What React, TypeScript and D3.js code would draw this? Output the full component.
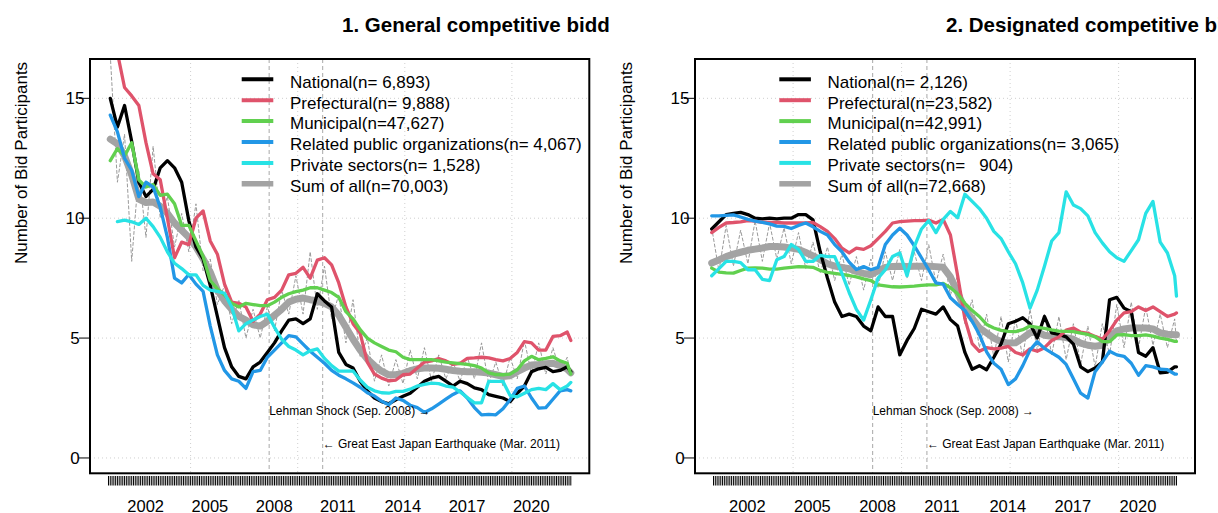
import React from "react";
import * as d3 from "d3";

const FONT = "'Liberation Sans', Arial, Helvetica, sans-serif";

// month index = months since Jan 2001
const MONTHS_LEFT = [...d3.range(3, 260, 4), 261];
const MONTHS_RIGHT = [...d3.range(3, 260, 4), 260];

const LEGEND_LEFT = [
  "National(n= 6,893)",
  "Prefectural(n= 9,888)",
  "Municipal(n=47,627)",
  "Related public organizations(n= 4,067)",
  "Private sectors(n= 1,528)",
  "Sum of all(n=70,003)",
];
const LEGEND_RIGHT = [
  "National(n= 2,126)",
  "Prefectural(n=23,582)",
  "Municipal(n=42,991)",
  "Related public organizations(n= 3,065)",
  "Private sectors(n=   904)",
  "Sum of all(n=72,668)",
];
const COLORS = ["#000000", "#DF536B", "#61D04F", "#2297E6", "#28E2E5", "#A3A3A3"];

const YEAR_LABELS = [2002, 2005, 2008, 2011, 2014, 2017, 2020];
const GRID_YEARS = [2005, 2010, 2015, 2020];
const Y_TICKS = [0, 5, 10, 15];
const EVENT_LEHMAN = 92; // Sep 2008
const EVENT_QUAKE = 122; // Mar 2011

// ---------- Panel 1: General competitive bidding ----------
const L_NATIONAL = [
  15.0, 13.8, 14.7, 13.2, 11.5, 10.9, 11.2, 12.1, 12.4, 12.1, 11.5, 9.9, 8.8, 8.3, 7.2, 5.9, 4.6, 3.8, 3.4, 3.3, 3.8, 4.0,
  4.4, 4.8, 5.3, 5.75, 5.8, 5.6, 5.8, 6.85, 6.55, 6.3, 4.4, 3.9, 3.75, 3.2, 2.8, 2.5, 2.35, 2.26, 2.43, 2.57, 2.7, 2.95,
  3.2, 3.33, 3.4, 3.2, 3.0, 3.2, 3.1, 2.92, 2.85, 2.64, 2.57, 2.5, 2.35, 2.7, 3.0, 3.6, 3.72, 3.78, 3.6, 3.65, 3.8, 3.6,
];
const L_PREFECTURAL = [
  18.0, 16.9, 15.45, 15.1, 14.7, 13.15, 11.85, 11.6, 10.0, 8.35, 9.0, 8.9, 10.0, 10.3, 9.05, 8.5, 7.25, 6.5, 6.45, 6.3, 5.7, 6.0,
  6.6, 6.7, 7.0, 7.64, 7.7, 7.95, 7.5, 8.25, 8.35, 8.05, 7.3, 6.3, 5.6, 5.2, 4.0, 3.5, 3.33, 3.22, 3.25, 3.47, 3.5, 3.75,
  4.0, 4.05, 4.15, 4.05, 3.9, 3.95, 4.15, 4.17, 4.2, 4.17, 4.1, 4.05, 4.15, 4.4, 4.85, 4.8, 4.5, 4.5, 5.07, 5.1, 5.25, 4.9,
];
const L_MUNICIPAL = [
  12.4, 12.9, 12.6, 13.15, 11.6, 11.3, 11.4, 10.95, 11.0, 10.6, 9.7, 9.7, 9.05, 8.4, 7.4, 7.05, 6.8, 6.45, 6.3, 6.45, 6.4, 6.35,
  6.35, 6.5, 6.7, 6.85, 6.94, 7.0, 7.1, 7.1, 7.0, 6.9, 6.7, 6.1, 5.8, 5.35, 5.0, 4.8, 4.65, 4.5, 4.43, 4.2, 4.1, 4.1,
  4.1, 4.1, 4.05, 4.0, 3.97, 3.93, 3.9, 3.85, 3.75, 3.55, 3.48, 3.47, 3.5, 3.68, 4.05, 4.24, 4.1, 4.15, 4.22, 4.05, 3.95, 3.5,
];
const L_RELATED = [
  14.3, 13.6, 12.5, 12.0, 10.9, 11.5, 11.3, 10.45, 9.2, 7.5, 7.3, 7.65, 7.25, 6.95, 5.5, 4.3, 3.65, 3.3, 3.2, 2.9, 3.6, 3.65,
  4.2, 4.5, 4.8, 5.1, 5.05, 4.75, 4.45, 4.2, 3.95, 3.65, 3.45, 3.3, 3.13, 2.95, 2.72, 2.58, 2.37, 2.22, 2.5, 2.4, 2.2, 2.1,
  1.9, 2.05, 2.25, 2.45, 2.65, 2.8, 2.5, 2.1, 1.8, 1.82, 1.8, 2.05, 2.43, 2.9, 3.0, 2.5, 2.08, 2.1, 2.45, 2.8, 2.85, 2.8,
];
const L_PRIVATE = [
  null, 9.86, 9.92, 9.85, 9.74, 10.0, 9.65, 9.2, 8.6, 8.12, 7.9, 7.64, 7.64, 7.2, 7.0, 6.95, 6.87, 6.3, 5.3, 5.6, 5.75, 5.9,
  6.0, 5.45, 4.95, 4.65, 4.5, 4.3, 4.47, 4.55, 4.15, 3.85, 3.62, 3.62, 3.63, 3.25, 2.95, 2.8, 2.72, 2.7, 2.78, 2.78, 2.87, 3.0,
  3.07, 3.12, 3.1, 3.0, 2.95, 2.75, 2.52, 2.3, 2.3, 3.19, 3.19, 3.19, 2.6, 2.55, 2.7, 2.85, 2.9, 2.85, 3.1, 2.85, 3.0, 3.15,
];
const L_SUM = [
  13.3, 13.1, 12.6, 11.8, 10.8, 10.65, 10.68, 10.5, 10.2, 9.8, 9.5, 9.2, 8.8, 8.3, 7.75, 7.0, 6.55, 6.2, 5.9, 5.75, 5.55, 5.5,
  5.7, 5.95, 6.2, 6.5, 6.62, 6.67, 6.6, 6.55, 6.45, 6.3, 5.95, 5.45, 4.95, 4.5, 4.12, 3.85, 3.62, 3.47, 3.47, 3.53, 3.64, 3.72,
  3.75, 3.75, 3.74, 3.7, 3.65, 3.62, 3.6, 3.6, 3.57, 3.54, 3.47, 3.4, 3.43, 3.6, 3.75, 3.88, 3.9, 3.93, 3.95, 3.85, 3.7, 3.55,
];
const L_SUM_MONTHLY = [
  16.8, 11.5, 13.5, 8.2, 12.0, 9.2, 13.0, 10.0, 10.9, 8.8, 10.2, 8.6, 10.6, 7.8, 8.3, 6.4, 7.2, 5.6, 6.6, 5.0, 6.2, 5.0,
  6.3, 5.3, 7.0, 6.0, 7.6, 6.0, 8.6, 6.2, 8.0, 5.8, 6.8, 4.8, 6.6, 4.2, 5.0, 3.2, 4.3, 3.0, 4.1, 3.1, 4.5, 3.3,
  4.6, 3.2, 4.3, 3.3, 4.0, 3.2, 4.2, 3.3, 4.8, 3.1, 4.0, 3.0, 4.2, 3.3, 4.9, 3.5, 4.8, 3.5, 4.6, 3.6, 4.2, 3.4,
];

// ---------- Panel 2: Designated competitive bidding ----------
const R_NATIONAL = [
  9.55, 9.85, 10.15, 10.2, 10.24, 10.15, 10.0, 9.97, 10.0, 9.97, 10.0, 10.0, 10.15, 10.15, 9.93, 8.6, 7.5, 6.5, 5.9, 6.0, 5.9, 5.5,
  5.3, 6.3, 5.9, 5.9, 4.3, 4.9, 5.4, 6.2, 6.1, 6.0, 6.3, 5.77, 5.5, 4.4, 3.7, 3.85, 3.68, 4.2, 4.75, 5.6, 5.7, 5.85,
  5.6, 5.0, 5.9, 5.22, 5.15, 5.05, 4.75, 3.8, 3.6, 3.75, 4.0, 6.6, 6.7, 6.25, 6.1, 4.4, 4.24, 4.6, 3.55, 3.58, 3.8, 3.8,
];
const R_PREFECTURAL = [
  9.4, 9.62, 9.8, 9.82, 9.85, 9.9, 9.88, 9.83, 9.82, 9.82, 9.8, 9.8, 9.8, 9.8, 9.82, 9.65, 9.45, 9.15, 8.75, 8.55, 8.75, 8.7,
  8.85, 9.15, 9.45, 9.8, 9.86, 9.88, 9.9, 9.9, 9.92, 9.8, 9.95, 9.3, 7.6, 5.8, 4.77, 4.45, 4.6, 4.55, 4.58, 4.65, 4.4, 4.3,
  4.55, 4.45, 4.6, 4.9, 5.05, 5.33, 5.42, 5.25, 5.2, 5.07, 4.95, 5.3, 5.75, 6.05, 6.1, 6.3, 6.15, 6.3, 6.1, 5.9, 6.0, 6.05,
];
const R_MUNICIPAL = [
  7.92, 7.75, 7.72, 7.71, 7.82, 7.92, 7.93, 7.92, 7.88, 7.88, 7.92, 7.95, 7.98, 7.97, 7.95, 7.82, 7.74, 7.7, 7.66, 7.61, 7.55, 7.47,
  7.4, 7.22, 7.18, 7.14, 7.13, 7.15, 7.17, 7.2, 7.22, 7.22, 7.28, 7.1, 6.85, 6.45, 6.15, 5.9, 5.57, 5.42, 5.32, 5.28, 5.27, 5.35,
  5.5, 5.45, 5.4, 5.34, 5.29, 5.28, 5.27, 5.21, 5.15, 5.05, 4.85, 4.85, 5.13, 5.14, 5.1, 5.1, 5.13, 5.08, 5.0, 4.95, 4.86, 4.86,
];
const R_RELATED = [
  10.1, 10.1, 10.12, 10.14, 10.05, 9.95, 9.88, 9.83, 9.76, 9.67, 9.66, 9.57, 9.7, 9.8, 9.64, 9.45, 9.3, 8.9, 8.6, 8.17, 7.86, 7.98,
  7.85, 7.95, 8.9, 9.3, 9.58, 9.3, 8.85, 8.35, 7.85, 7.3, 7.25, 6.68, 6.4, 6.15, 5.7, 5.15, 4.42, 3.95, 3.7, 3.06, 3.3, 3.85,
  4.5, 4.85, 4.57, 4.38, 4.2, 3.9, 3.3, 2.7, 2.5, 3.6, 4.0, 4.45, 4.3, 4.24, 3.95, 3.45, 3.85, 3.8, 3.7, 3.68, 3.5, 3.5,
];
const R_PRIVATE = [
  7.6, 7.9, 8.2, 8.2, 8.15, 7.85, 7.85, 7.45, 7.4, 8.27, 8.4, 8.9, 8.7, 8.2, 8.2, 8.45, 8.4, 8.4, 7.7, 6.9, 6.2, 5.75,
  6.6, 7.5, 7.85, 8.4, 8.55, 7.6, 8.8, 9.55, 9.9, 9.4, 9.95, 10.28, 10.02, 11.0, 10.7, 10.4, 10.0, 9.45, 9.15, 8.6, 8.1, 7.3,
  6.25, 7.0, 8.0, 9.05, 9.4, 11.1, 10.55, 10.4, 10.1, 9.4, 8.97, 8.6, 8.35, 8.2, 8.65, 9.1, 10.2, 10.7, 9.0, 8.55, 7.6, 6.75,
];
const R_SUM = [
  8.13, 8.26, 8.4, 8.5, 8.58, 8.66, 8.71, 8.76, 8.82, 8.82, 8.8, 8.75, 8.7, 8.57, 8.43, 8.27, 8.1, 8.0, 7.95, 7.89, 7.78, 7.7,
  7.64, 7.8, 7.95, 7.99, 8.0, 7.99, 8.0, 8.0, 8.0, 7.98, 7.95, 7.55, 6.9, 6.2, 5.82, 5.43, 5.21, 5.0, 4.85, 4.79, 4.8, 5.0,
  5.22, 5.25, 5.12, 5.07, 5.06, 5.02, 4.95, 4.79, 4.7, 4.66, 4.7, 5.05, 5.3, 5.38, 5.42, 5.42, 5.42, 5.38, 5.22, 5.16, 5.14, 5.14,
];
const R_SUM_MONTHLY = [
  9.6, 7.8, 9.7, 8.0, 9.5, 8.1, 9.9, 8.2, 9.8, 8.3, 9.6, 8.1, 9.4, 7.9, 9.0, 7.7, 8.8, 7.4, 8.5, 7.2, 8.4, 7.0,
  8.3, 7.1, 8.6, 7.4, 8.7, 7.5, 8.6, 7.4, 8.9, 7.3, 8.5, 6.8, 7.6, 5.6, 6.6, 4.6, 6.0, 4.2, 5.9, 4.0, 5.8, 4.2,
  6.2, 4.5, 6.0, 4.3, 5.9, 4.1, 5.6, 3.9, 5.5, 3.8, 5.6, 4.3, 6.4, 4.6, 6.5, 4.6, 6.3, 4.7, 6.0, 4.6, 5.8, 4.8,
];

const PANELS = [
  {
    key: "p1",
    offset: 0,
    clipW: 609,
    title: "1. General competitive bidding",
    titleX: 342,
    ylabX: 26.5,
    boxLeft: 90,
    boxRight: 589.3,
    first: 2,
    last: 261,
    months: MONTHS_LEFT,
    series: [L_NATIONAL, L_PREFECTURAL, L_MUNICIPAL, L_RELATED, L_PRIVATE],
    sum: L_SUM,
    raw: L_SUM_MONTHLY,
    legend: LEGEND_LEFT,
    legendX: 241.7,
  },
  {
    key: "p2",
    offset: 609,
    clipW: 609,
    title: "2. Designated competitive bidding",
    titleX: 946,
    ylabX: 631.5,
    boxLeft: 695,
    boxRight: 1195,
    first: 4,
    last: 260,
    months: MONTHS_RIGHT,
    series: [R_NATIONAL, R_PREFECTURAL, R_MUNICIPAL, R_RELATED, R_PRIVATE],
    sum: R_SUM,
    raw: R_SUM_MONTHLY,
    legend: LEGEND_RIGHT,
    legendX: 779.3,
  },
];

const BOX_TOP = 59;
const BOX_BOTTOM = 473.3;
const monthOf = (year: number) => (year - 2001) * 12;

function Panel({ p }: { p: any }) {
  const pad = (p.last - p.first) * 0.04;
  const x = d3.scaleLinear().domain([p.first - pad, p.last + pad]).range([p.boxLeft, p.boxRight]);
  const yPad = 16 * 0.04;
  const y = d3.scaleLinear().domain([-yPad, 16 + yPad]).range([BOX_BOTTOM, BOX_TOP]);

  const line = d3
    .line<[number, number | null]>()
    .defined((d) => d[1] != null)
    .x((d) => x(d[0]))
    .y((d) => y(d[1] as number));
  const toPts = (vals: (number | null)[]) => p.months.map((m: number, i: number) => [m, vals[i]] as [number, number | null]);

  const clipId = `plot-${p.key}`;
  const titleClip = `title-${p.key}`;
  const monthTicks = d3.range(p.first, p.last + 1);
  const legendRowY = (k: number) => 79.3 + k * 20.9;
  const yMid = (BOX_TOP + 267) / 2;

  return (
    <g>
      <defs>
        <clipPath id={clipId}>
          <rect x={p.boxLeft} y={BOX_TOP} width={p.boxRight - p.boxLeft} height={BOX_BOTTOM - BOX_TOP} />
        </clipPath>
        <clipPath id={titleClip}>
          <rect x={p.offset} y={0} width={p.clipW} height={60} />
        </clipPath>
      </defs>

      {/* title (cut at the panel edge, as in the source figure) */}
      <g clipPath={`url(#${titleClip})`}>
        <text x={p.titleX} y={32} fontFamily={FONT} fontWeight="bold" fontSize={20.5} fill="#000">
          {p.title}
        </text>
      </g>

      {/* y label */}
      <text
        transform={`translate(${p.ylabX},${yMid}) rotate(-90)`}
        textAnchor="middle"
        fontFamily={FONT}
        fontSize={17}
        fill="#000"
      >
        Number of Bid Participants
      </text>

      {/* grid */}
      {Y_TICKS.map((t) => (
        <line key={`gy${t}`} x1={p.boxLeft} x2={p.boxRight} y1={y(t)} y2={y(t)} stroke="#cfcfcf" strokeWidth={1} strokeDasharray="1,3" />
      ))}
      {GRID_YEARS.map((yr) => (
        <line key={`gx${yr}`} x1={x(monthOf(yr))} x2={x(monthOf(yr))} y1={BOX_TOP} y2={BOX_BOTTOM} stroke="#cfcfcf" strokeWidth={1} strokeDasharray="1,3" />
      ))}
      {[EVENT_LEHMAN, EVENT_QUAKE].map((m) => (
        <line key={`ev${m}`} x1={x(m)} x2={x(m)} y1={BOX_TOP} y2={BOX_BOTTOM} stroke="#a8a8a8" strokeWidth={1} strokeDasharray="4,3" />
      ))}

      {/* data */}
      <g clipPath={`url(#${clipId})`} fill="none" strokeLinejoin="round" strokeLinecap="round">
        <path d={line(toPts(p.raw)) || ""} stroke="#9a9a9a" strokeWidth={1} strokeDasharray="3,2.5" />
        <path d={line(toPts(p.sum)) || ""} stroke={COLORS[5]} strokeWidth={7} />
        {p.series.map((s: (number | null)[], k: number) => (
          <path key={k} d={line(toPts(s)) || ""} stroke={COLORS[k]} strokeWidth={3.3} />
        ))}
      </g>

      {/* box */}
      <rect x={p.boxLeft} y={BOX_TOP} width={p.boxRight - p.boxLeft} height={BOX_BOTTOM - BOX_TOP} fill="none" stroke="#000" strokeWidth={2} />

      {/* y axis */}
      {Y_TICKS.map((t) => (
        <g key={`yt${t}`}>
          <line x1={p.boxLeft - 11} x2={p.boxLeft} y1={y(t)} y2={y(t)} stroke="#000" strokeWidth={1} />
          <text x={p.boxLeft - 15} y={y(t) + 6} textAnchor="middle" fontFamily={FONT} fontSize={17} fill="#000">
            {t}
          </text>
        </g>
      ))}

      {/* x axis: monthly ticks */}
      {monthTicks.map((m) => (
        <line key={`mt${m}`} x1={x(m)} x2={x(m)} y1={476} y2={485.5} stroke="#000" strokeWidth={1} />
      ))}
      {YEAR_LABELS.map((yr) => (
        <text key={`yl${yr}`} x={x(monthOf(yr)) + 1} y={511.5} fontFamily={FONT} fontSize={16.5} fill="#000">
          {yr}
        </text>
      ))}

      {/* annotations */}
      <text x={x(EVENT_LEHMAN)} y={y(1.8)} fontFamily={FONT} fontSize={12} fill="#000">
        {"Lehman Shock (Sep. 2008) \u2192"}
      </text>
      <text x={x(EVENT_QUAKE)} y={y(0.43)} fontFamily={FONT} fontSize={12} fill="#000">
        {"\u2190 Great East Japan Earthquake (Mar. 2011)"}
      </text>

      {/* legend */}
      {p.legend.map((lab: string, k: number) => (
        <g key={`lg${k}`}>
          <line x1={p.legendX} x2={p.legendX + 31.6} y1={legendRowY(k)} y2={legendRowY(k)} stroke={COLORS[k]} strokeWidth={k === 5 ? 5.5 : 4} />
          <text
            x={p.legendX + 48.3}
            y={legendRowY(k) + 8.3}
            fontFamily={FONT}
            fontSize={17}
            fill="#000"
            xmlSpace="preserve"
            style={{ whiteSpace: "pre" }}
          >
            {lab}
          </text>
        </g>
      ))}
    </g>
  );
}

export default function App() {
  return (
    <svg
      width={1218}
      height={513}
      viewBox="0 0 1218 513"
      style={{ position: "absolute", left: 0, top: 0, background: "#fff" }}
    >
      <rect x={0} y={0} width={1218} height={513} fill="#fff" />
      {PANELS.map((p) => (
        <Panel key={p.key} p={p} />
      ))}
    </svg>
  );
}
